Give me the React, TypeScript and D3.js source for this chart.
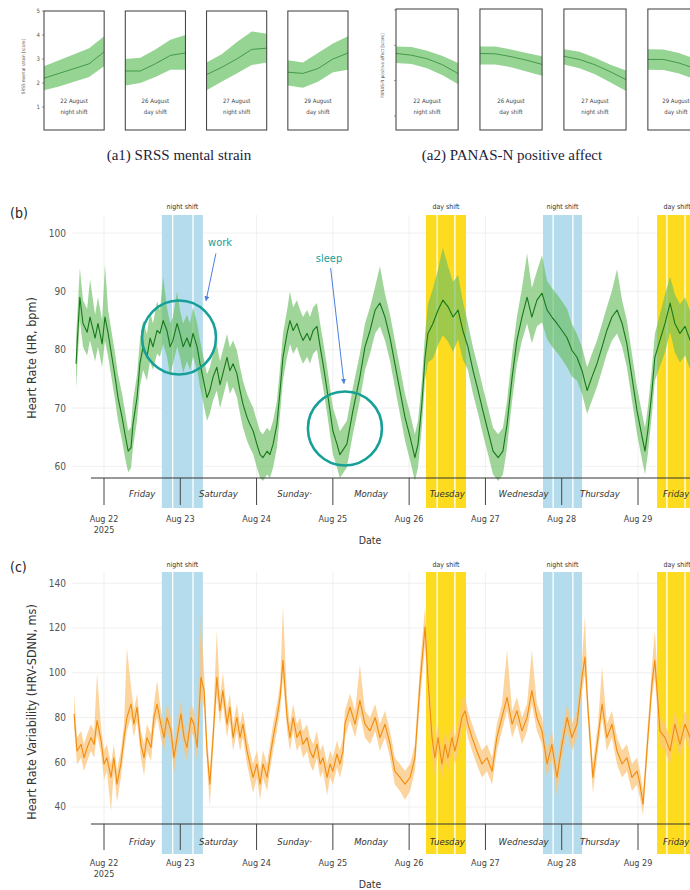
import React from "react";
import * as d3 from "d3";

// ---- small multiples (a1, a2): 5 samples across each shift ----
const boxLabels = ["22 August", "26 August", "27 August", "29 August"];
const boxShifts = ["night shift", "day shift", "night shift", "day shift"];

const srssMean = [
  [2.2, 2.4, 2.6, 2.8, 3.3],
  [2.5, 2.5, 2.8, 3.15, 3.25],
  [2.35, 2.65, 3.0, 3.4, 3.45],
  [2.45, 2.4, 2.6, 3.0, 3.25],
];
const srssHi = [
  [2.7, 2.95, 3.2, 3.45, 3.95],
  [3.0, 3.05, 3.4, 3.8, 4.0],
  [2.85, 3.2, 3.7, 4.15, 4.05],
  [2.95, 2.85, 3.25, 3.65, 3.95],
];
const srssLo = [
  [1.7, 1.85, 2.05, 2.25, 2.7],
  [1.9, 2.0, 2.25, 2.55, 2.55],
  [1.7, 2.05, 2.4, 2.75, 2.85],
  [1.9, 1.8, 2.05, 2.45, 2.55],
];

const panasMean = [
  [2.77, 2.72, 2.62, 2.45, 2.2],
  [2.77, 2.76, 2.68, 2.58, 2.46],
  [2.69, 2.6, 2.45, 2.25, 2.03],
  [2.6, 2.6, 2.5, 2.35, 2.2],
];
const panasHi = [
  [2.97, 2.95, 2.85, 2.7, 2.5],
  [2.97, 2.97, 2.88, 2.78, 2.69],
  [2.89, 2.82, 2.65, 2.45, 2.29],
  [2.89, 2.88, 2.78, 2.63, 2.5],
];
const panasLo = [
  [2.5, 2.47, 2.35, 2.15, 1.9],
  [2.46, 2.46, 2.38, 2.26, 2.14],
  [2.46, 2.35, 2.18, 1.95, 1.71],
  [2.31, 2.3, 2.2, 2.05, 1.9],
];

// ---- time series: [hours since Aug 22 2025 00:00, mean, band above, band below] ----
const hrSeries: [number, number, number, number][] = [
  [-8.8, 77.6, 4.3, 4.3], [-7.6, 89, 5, 4], [-6.6, 84.5, 4, 4], [-5.3, 83, 4, 4],
  [-4.4, 85.6, 6.5, 4], [-2.8, 82, 4, 4], [-1.9, 84.5, 4.5, 4], [-0.6, 81, 4, 4],
  [0.3, 85.6, 9, 4], [1.3, 82.8, 4, 4], [2.5, 78.7, 4, 4], [3.5, 75.3, 4, 4],
  [4.4, 71.8, 4, 4], [5.7, 68.4, 4, 4], [6.6, 65.5, 4, 4], [7.6, 62.6, 3.5, 3.6],
  [8.5, 63.2, 3.5, 3.5], [9.1, 67.2, 4, 4], [10.4, 71.8, 4, 4], [11.3, 77.6, 4, 4],
  [12.3, 80.5, 4.5, 4], [13.5, 78.7, 4, 4], [14.5, 82, 4.5, 4], [15.4, 80.5, 4, 4],
  [16.7, 83.3, 5, 4], [17.6, 82.8, 4, 4], [18.6, 85, 7.5, 4], [19.8, 83.3, 4, 4.5],
  [20.8, 80.5, 4, 5], [21.7, 81.6, 4, 4], [23.0, 84.5, 5.5, 4], [23.9, 82.8, 4, 4],
  [24.9, 80.5, 4, 4.5], [26.1, 82, 4, 4], [27.1, 80.5, 4, 4], [28.0, 82.8, 4.5, 4],
  [29.3, 80.5, 4, 4], [30.2, 77.6, 4, 4], [31.1, 75.3, 4, 4], [32.4, 71.8, 4, 4],
  [33.3, 73, 4, 4], [34.3, 75.3, 4, 4], [35.5, 77, 4, 4], [36.5, 74, 4, 4],
  [37.4, 75.9, 4, 4], [38.7, 78.7, 4, 4], [39.6, 76.4, 4, 4], [40.6, 77.6, 4, 4],
  [41.8, 75.9, 4, 4], [42.8, 73, 4, 4], [43.7, 70.7, 4, 4], [45.0, 68.4, 4, 4],
  [45.9, 67.2, 4, 4], [46.9, 66.1, 4, 4], [48.1, 63.8, 4, 4], [49.1, 62, 4, 4],
  [50.0, 61.5, 4, 4], [51.3, 62.6, 4, 4], [52.2, 62, 4, 4], [53.2, 63.8, 4, 4],
  [54.4, 67.2, 4, 4], [55.4, 73, 4, 4], [56.3, 78.7, 4, 4], [57.6, 82.8, 4, 4],
  [58.5, 85, 5, 4], [59.5, 83.3, 4, 4], [60.7, 84.5, 4, 4], [61.7, 82.8, 4, 4],
  [62.6, 81.6, 4, 4], [63.9, 82.8, 4, 4], [64.8, 81.6, 4, 4], [65.8, 83.3, 4, 4],
  [67.0, 84, 4, 4], [68.0, 80.5, 4, 4], [68.9, 77.6, 4, 4], [70.2, 73, 4, 4],
  [71.1, 69.5, 4, 4], [72.0, 66.1, 4, 4], [73.3, 63.8, 4, 4], [74.2, 62, 4, 4],
  [76.4, 63.8, 4, 4], [78.3, 69.5, 4, 4], [80.5, 75.3, 4, 4], [82.1, 80.5, 4, 4],
  [83.7, 83.3, 4, 4], [85.3, 86.8, 4, 4], [86.8, 88, 6.3, 4], [88.4, 85.6, 4, 4],
  [90.0, 82, 4, 4], [91.5, 77.6, 4, 4], [93.1, 73, 4, 4], [94.7, 68.4, 4, 4],
  [96.3, 65, 4, 4], [97.8, 61.5, 4, 4], [98.8, 63.8, 4, 4], [100.0, 70.7, 4, 4],
  [101.0, 78.7, 4, 4], [101.9, 82.8, 5, 5], [103.5, 84.5, 6, 6], [105.1, 86.8, 7, 6],
  [106.6, 88.5, 9, 6], [108.2, 87.4, 7, 6], [109.8, 85.6, 6, 6], [111.4, 86.8, 6, 5],
  [112.9, 83.3, 5, 5], [114.5, 80.5, 4, 4], [116.1, 76.4, 4, 4], [117.7, 73, 4, 4],
  [119.2, 69.5, 4, 4], [120.8, 66.1, 4, 4], [122.4, 62.6, 4, 4], [124.0, 61.5, 4, 4],
  [125.5, 62.6, 4, 4], [126.8, 67.2, 4, 4], [128.4, 75.3, 4, 4], [129.9, 81.6, 4, 4],
  [131.5, 85.6, 5, 4], [133.1, 89, 7.5, 4.5], [134.6, 85.6, 5, 4.5], [136.2, 88.5, 5, 4.5],
  [137.8, 89.7, 6.5, 5], [139.4, 86.8, 5, 5], [140.9, 85.6, 5, 5], [142.5, 84.5, 5, 5],
  [144.1, 83.3, 5, 5], [145.7, 82, 5, 5], [147.2, 79.9, 4.5, 4.5], [148.8, 78.7, 4, 4],
  [150.4, 76.4, 4, 4], [152.0, 73, 4, 4], [153.5, 75.3, 4, 4], [155.1, 77.6, 4, 4],
  [156.7, 80.5, 4, 4], [158.2, 83.3, 4, 4], [159.8, 85.6, 4.5, 4], [161.4, 86.8, 7, 4],
  [163.0, 84.5, 4, 4], [164.5, 81, 4, 4], [166.1, 75.3, 4, 4], [167.7, 69.5, 4, 4],
  [169.3, 65, 4, 4], [170.2, 62.6, 4, 4], [171.1, 66.1, 4, 4], [172.4, 73, 4, 4],
  [173.3, 78.7, 4, 4], [174.9, 81.6, 4.5, 4.5], [176.5, 84.5, 5, 5], [178.1, 88, 4.5, 5],
  [179.6, 84.5, 5, 5], [181.2, 82.8, 5, 5], [182.8, 84, 5, 5], [184.4, 81.6, 5, 5],
];

const hrvSeries: [number, number, number, number][] = [
  [-9.4, 81.6, 9, 6], [-8.5, 65, 6, 6], [-7.2, 68, 6, 6], [-6.3, 62, 6, 6],
  [-5.3, 66.6, 6, 6], [-4.1, 71, 6, 6], [-3.1, 68, 6, 6], [-2.2, 78.6, 21, 6],
  [-0.9, 69.6, 6, 6], [0, 59.2, 6, 7], [0.9, 62, 6, 6], [2.2, 53.2, 6, 15],
  [3.1, 62, 6, 6], [4.1, 50.2, 6, 8], [5.3, 59.2, 6, 6], [6.3, 71, 6, 6],
  [7.2, 80, 31, 6], [8.5, 86, 8, 6], [9.4, 77, 6, 6], [10.4, 84.6, 6, 6],
  [11.6, 68, 6, 6], [12.6, 62, 6, 8], [13.5, 71, 6, 6], [14.8, 66.6, 6, 6],
  [15.7, 80, 6, 6], [16.7, 86, 10.6, 6], [17.9, 77, 6, 6], [18.9, 71, 6, 6],
  [19.8, 80, 6, 6], [21.1, 74, 6, 6], [22.0, 62, 6, 7], [23.0, 71, 6, 6],
  [24.2, 81.6, 6, 6], [25.2, 71, 6, 6], [26.1, 66.6, 6, 6], [27.4, 80, 6, 6],
  [28.3, 77, 6, 6], [29.3, 66.6, 6, 6], [30.5, 98, 28, 8], [31.5, 92, 8, 8],
  [32.4, 65, 6, 6], [33.3, 50.2, 6, 10], [34.3, 71, 6, 6], [35.5, 98, 21, 8],
  [36.5, 83, 6, 6], [37.4, 92, 8, 6], [38.7, 77, 6, 6], [39.6, 84.6, 6, 6],
  [40.6, 71, 6, 6], [41.8, 80, 6, 6], [42.8, 71, 6, 6], [43.7, 77, 6, 6],
  [45.0, 65, 6, 6], [45.9, 59.2, 6, 6], [46.9, 53.2, 6, 7], [48.1, 59.2, 6, 6],
  [49.1, 50.2, 6, 7], [50.0, 59.2, 6, 6], [51.3, 53.2, 6, 6], [52.2, 62, 6, 6],
  [53.2, 71, 6, 6], [54.4, 80, 6, 6], [55.4, 89, 6, 6], [56.3, 105.6, 24, 8],
  [57.6, 80, 8, 6], [58.5, 71, 6, 6], [59.5, 80, 6, 6], [60.7, 71, 6, 6],
  [61.7, 74, 6, 6], [62.6, 68, 6, 6], [63.9, 71, 6, 6], [64.8, 65, 6, 6],
  [65.8, 62, 6, 6], [67.0, 68, 6, 6], [68.0, 59.2, 6, 6], [68.9, 62, 6, 6],
  [70.2, 53.2, 6, 8], [71.1, 59.2, 6, 6], [72.0, 56, 6, 6], [73.3, 63.6, 6, 6],
  [74.2, 59.2, 6, 6], [75.2, 65, 6, 6], [75.8, 77, 6, 6], [77.4, 84.6, 6, 6],
  [79.0, 77, 6, 6], [80.5, 87.6, 16, 6], [82.1, 77, 6, 6], [83.7, 74, 6, 6],
  [85.3, 80, 6, 6], [86.8, 71, 6, 6], [88.4, 77, 6, 6], [90.0, 68, 6, 6],
  [91.5, 56, 6, 6], [93.1, 53.2, 6, 6], [94.7, 50.2, 6, 7], [96.3, 53.2, 6, 6],
  [97.8, 62, 6, 6], [99.4, 95, 8, 8], [101.0, 120.5, 9, 8], [101.9, 98, 8, 10],
  [103.2, 71, 6, 8], [104.1, 62, 6, 8], [105.1, 71, 6, 6], [106.3, 59.2, 6, 8],
  [107.3, 68, 6, 6], [108.2, 62, 6, 6], [109.5, 71, 6, 6], [110.4, 65, 6, 6],
  [111.4, 71, 6, 6], [112.6, 80, 8, 6], [113.6, 83, 6, 6], [114.5, 77, 6, 6],
  [115.8, 71, 6, 6], [117.3, 65, 6, 6], [118.9, 59.2, 6, 6], [120.5, 62, 6, 6],
  [122.1, 56, 6, 6], [123.6, 71, 6, 6], [125.2, 80, 6, 6], [126.8, 89, 21, 6],
  [128.4, 77, 6, 6], [129.9, 83, 6, 6], [131.5, 74, 6, 6], [133.1, 80, 6, 6],
  [134.6, 92, 18, 6], [136.2, 80, 6, 6], [137.8, 74, 6, 6], [139.4, 59.2, 6, 6],
  [140.9, 68, 6, 6], [142.5, 53.2, 6, 8], [144.1, 68, 6, 6], [145.7, 80, 6, 6],
  [147.2, 71, 6, 6], [148.8, 77, 6, 6], [150.4, 98, 8, 6], [151.3, 107, 18, 8],
  [152.3, 83, 6, 6], [153.8, 53.2, 6, 7], [155.4, 71, 6, 6], [156.7, 86, 16.6, 6],
  [158.2, 71, 6, 6], [159.8, 77, 6, 6], [161.4, 65, 6, 6], [163.0, 59.2, 6, 6],
  [164.5, 62, 6, 6], [166.1, 53.2, 6, 6], [167.7, 56, 6, 6], [168.6, 50.2, 6, 6],
  [169.6, 41.2, 6, 5], [171.1, 71, 6, 6], [172.4, 95, 8, 6], [173.3, 105.6, 13.4, 8],
  [174.9, 74, 6, 6], [176.5, 71, 6, 6], [178.1, 65, 6, 6], [179.6, 77, 6, 6],
  [181.2, 68, 6, 6], [182.8, 77, 6, 6], [184.4, 71, 6, 6],
];

// shift windows in hours since Aug 22 00:00, with the white break lines
const shiftKinds = ["night", "day", "night", "day"];
const shiftStart = [18.2, 101.3, 138.1, 174.0];
const shiftEnd = [31.1, 113.9, 150.4, 186.6];
const shiftBreaks = [[21.6, 28.0], [104.8, 110.4], [141.3, 147.5], [177.1, 182.8]];

const dayNames = ["Friday", "Saturday", "Sunday·", "Monday", "Tuesday", "Wednesday", "Thursday", "Friday"];
const dateLabels = ["Aug 22", "Aug 23", "Aug 24", "Aug 25", "Aug 26", "Aug 27", "Aug 28", "Aug 29"];

const hrTicks = [60, 70, 80, 90, 100];
const hrvTicks = [40, 60, 80, 100, 120, 140];

const SANS = "'Liberation Sans Narrow', 'DejaVu Sans Condensed', 'Liberation Sans', Arial, sans-serif";
const SERIF = "'Liberation Serif', 'DejaVu Serif', serif";

const x = d3.scaleLinear().domain([0, 168]).range([104, 638]);

function TimePanel({ series, yDomain, yRange, ticks, bandFill, bandOpacity, lineColor, title, label, L, children }: any) {
  const y = d3.scaleLinear().domain(yDomain).range(yRange);
  const area = d3.area<[number, number, number, number]>()
    .x((d) => x(d[0]))
    .y0((d) => y(d[1] - d[3]))
    .y1((d) => y(d[1] + d[2]));
  const line = d3.line<[number, number, number, number]>()
    .x((d) => x(d[0]))
    .y((d) => y(d[1]));
  const days = d3.range(0, 8);
  return (
    <g>
      {ticks.map((t: number) => (
        <line key={"g" + t} x1={72} x2={690} y1={y(t)} y2={y(t)} stroke="#ececec" strokeWidth={0.8} />
      ))}
      {days.map((d) => (
        <line key={"v" + d} x1={x(d * 24)} x2={x(d * 24)} y1={L.top} y2={L.axisY} stroke="#ececec" strokeWidth={0.8} />
      ))}
      {shiftKinds.map((k, i) => (
        <g key={"s" + i}>
          <rect x={x(shiftStart[i])} y={L.top} width={x(shiftEnd[i]) - x(shiftStart[i])}
            height={L.bandBottom - L.top} fill={k === "night" ? "#b5dcec" : "#fddc1f"} />
          {shiftBreaks[i].map((b) => (
            <line key={b} x1={x(b)} x2={x(b)} y1={L.top} y2={L.bandBottom} stroke="#fff" strokeWidth={1.3} />
          ))}
          <text x={(x(shiftStart[i]) + x(shiftEnd[i])) / 2} y={L.shiftLabelY} fontSize={7}
            textAnchor="middle" fill="#333" fontFamily={SANS}>{k} shift</text>
        </g>
      ))}
      <path d={area(series) || ""} fill={bandFill} opacity={bandOpacity} />
      <path d={line(series) || ""} fill="none" stroke={lineColor} strokeWidth={1.1} strokeLinejoin="round" />
      {ticks.map((t: number) => (
        <text key={"t" + t} x={66} y={y(t) + 3.5} fontSize={10} textAnchor="end" fill="#555" fontFamily={SANS}>{t}</text>
      ))}
      <text transform={`translate(36,${L.titleY}) rotate(-90)`} fontSize={12.5} textAnchor="middle"
        fill="#333" fontFamily={SANS}>{title}</text>
      <text x={10} y={L.labelY} fontSize={14} fill="#222" fontFamily={SANS}>{label}</text>
      <line x1={91} x2={690} y1={L.axisY} y2={L.axisY} stroke="#333" strokeWidth={1} />
      {days.map((d) => (
        <g key={"d" + d}>
          <line x1={x(d * 24)} x2={x(d * 24)} y1={L.axisY} y2={L.tickEnd} stroke="#444" strokeWidth={1} />
          <text x={x(d * 24 + 12)} y={L.dayNameY} fontSize={9.5} fontStyle="italic" textAnchor="middle"
            fill="#333" fontFamily={SANS}>{dayNames[d]}</text>
          <text x={x(d * 24)} y={L.dateY} fontSize={9} textAnchor="middle" fill="#444" fontFamily={SANS}>{dateLabels[d]}</text>
        </g>
      ))}
      <text x={x(0)} y={L.dateY + 11} fontSize={9} textAnchor="middle" fill="#444" fontFamily={SANS}>2025</text>
      <text x={370} y={L.dateY + 22} fontSize={10.5} textAnchor="middle" fill="#333" fontFamily={SANS}>Date</text>
      {children && children(y)}
    </g>
  );
}

function Multiples({ mean, hi, lo, yScale, range, top, bottom, ticks, tickLabels, axisTitle, caption, captionX }: any) {
  const band = d3.scaleBand<number>().domain([0, 1, 2, 3]).range(range).paddingInner(0.26).paddingOuter(0);
  const bw = band.bandwidth();
  return (
    <g>
      {mean.map((m: number[], i: number) => {
        const bx = band(i) as number;
        const xs = d3.scaleLinear().domain([0, m.length - 1]).range([bx, bx + bw]);
        const pts = m.map((v, j) => ({ j, v, h: hi[i][j], l: lo[i][j] }));
        const area = d3.area<any>().x((d) => xs(d.j)).y0((d) => yScale(d.l)).y1((d) => yScale(d.h));
        const line = d3.line<any>().x((d) => xs(d.j)).y((d) => yScale(d.v));
        // keep the box caption inside the page when the last box runs past the edge
        const cx = Math.min(bx + bw / 2, 676);
        return (
          <g key={i}>
            <path d={area(pts) || ""} fill="#84cc80" opacity={0.85} />
            <path d={line(pts) || ""} fill="none" stroke="#2f8a35" strokeWidth={0.8} />
            <rect x={bx} y={top} width={bw} height={bottom - top} fill="none" stroke="#3a3a3a" strokeWidth={1} />
            <text x={cx} y={bottom - 27} fontSize={6} textAnchor="middle" fill="#444" fontFamily={SANS}>{boxLabels[i]}</text>
            <text x={cx} y={bottom - 16} fontSize={6} textAnchor="middle" fill="#444" fontFamily={SANS}>{boxShifts[i]}</text>
          </g>
        );
      })}
      {ticks.map((t: number) => (
        <g key={t}>
          <line x1={range[0] - 2} x2={range[0]} y1={yScale(t)} y2={yScale(t)} stroke="#555" strokeWidth={0.6} />
          {tickLabels && (
            <text x={range[0] - 4} y={yScale(t) + 2} fontSize={6} textAnchor="end" fill="#555" fontFamily={SANS}>{t}</text>
          )}
        </g>
      ))}
      <text transform={`translate(${range[0] - (tickLabels ? 19 : 12)},${(top + bottom) / 2 - 4}) rotate(-90)`}
        fontSize={4.6} textAnchor="middle" fill="#555" fontFamily={SANS}>{axisTitle}</text>
      <text x={captionX} y={160} fontSize={15} textAnchor="middle" fill="#1d1d3a" fontFamily={SERIF}>{caption}</text>
    </g>
  );
}

export default function App() {
  const srssY = d3.scaleLinear().domain([0, 5]).range([131, 11]);
  const panasY = d3.scaleLinear().domain([1, 4]).range([116, 10]);
  const teal = "#16a098";
  const blue = "#4a7fe0";
  return (
    <div style={{ position: "fixed", left: 0, top: 0 }}>
      <svg width={690} height={890} style={{ display: "block", background: "#fff" }}>
        <defs>
          <marker id="arr" viewBox="0 0 10 10" refX={9} refY={5} markerWidth={5} markerHeight={5} orient="auto">
            <path d="M0,0 L10,5 L0,10 z" fill={blue} />
          </marker>
        </defs>
        <Multiples mean={srssMean} hi={srssHi} lo={srssLo} yScale={srssY} range={[44, 348]} top={11} bottom={130}
          ticks={[1, 2, 3, 4, 5]} tickLabels axisTitle="SRSS mental strain [score]"
          caption="(a1) SRSS mental strain" captionX={179} />
        <Multiples mean={panasMean} hi={panasHi} lo={panasLo} yScale={panasY} range={[396, 710]} top={9} bottom={130}
          ticks={[1, 2, 3, 4]} tickLabels={false} axisTitle="PANAS-N positive affect [score]"
          caption="(a2) PANAS-N positive affect" captionX={512} />

        <TimePanel series={hrSeries} yDomain={[58, 103.1]} yRange={[478, 215]} ticks={hrTicks}
          bandFill="#6cbf63" bandOpacity={0.65} lineColor="#17781a" title="Heart Rate (HR, bpm)" label="(b)"
          L={{ top: 215, axisY: 478, bandBottom: 508, tickEnd: 505, dayNameY: 497, dateY: 522, shiftLabelY: 209, labelY: 218, titleY: 358 }}>
          {(y: any) => (
            <g>
              <circle cx={x(23.6)} cy={y(82.1)} r={37} fill="none" stroke={teal} strokeWidth={2.6} />
              <circle cx={x(75.8)} cy={y(66.5)} r={37} fill="none" stroke={teal} strokeWidth={2.6} />
              <text x={x(36.5)} y={y(98.5) + 4} fontSize={11} textAnchor="middle" fill={teal} fontFamily={SANS}>work</text>
              <line x1={x(35.2)} y1={y(96.5)} x2={x(32.1)} y2={y(88.4)} stroke={blue} strokeWidth={1} markerEnd="url(#arr)" />
              <text x={x(70.8)} y={y(95.7) + 4} fontSize={11} textAnchor="middle" fill={teal} fontFamily={SANS}>sleep</text>
              <line x1={x(71.3)} y1={y(94)} x2={x(75.5)} y2={y(74.2)} stroke={blue} strokeWidth={1} markerEnd="url(#arr)" />
            </g>
          )}
        </TimePanel>

        <TimePanel series={hrvSeries} yDomain={[32.4, 145]} yRange={[824, 572]} ticks={hrvTicks}
          bandFill="#fbc57e" bandOpacity={0.75} lineColor="#f28c0c" title="Heart Rate Variability (HRV-SDNN, ms)" label="(c)"
          L={{ top: 572, axisY: 824, bandBottom: 854, tickEnd: 850, dayNameY: 845, dateY: 866, shiftLabelY: 567, labelY: 572, titleY: 712 }} />
      </svg>
    </div>
  );
}
